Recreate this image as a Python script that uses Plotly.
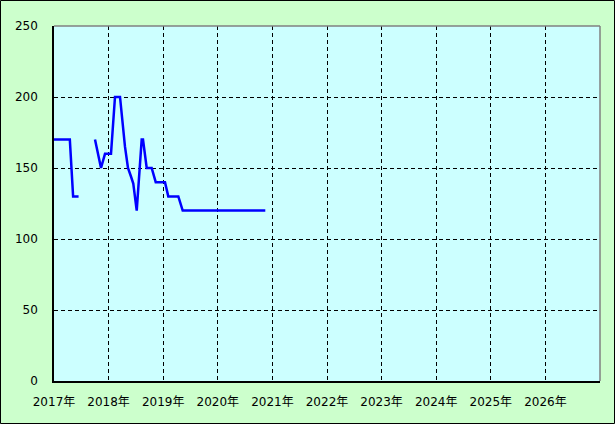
import plotly.graph_objects as go

# Data (fractional year, price); None marks a gap in the series
years = [2017.00, 2017.29, 2017.35, 2017.45,
         None,
         2017.751, 2017.861, 2017.934, 2018.044, 2018.117, 2018.209, 2018.300,
         2018.355, 2018.410, 2018.452, 2018.515, 2018.606, 2018.630, 2018.660,
         2018.698, 2018.789, 2018.863, 2019.033, 2019.093, 2019.277, 2019.357,
         2020.870]
values = [170, 170, 130, 130,
          None,
          170, 150, 160, 160, 200, 200, 165,
          150, 144, 139, 120, 170, 170, 160,
          150, 150, 140, 140, 130, 130, 120,
          120]

tick_years = list(range(2017, 2027))
tick_labels = [f"{y}年" for y in tick_years]
y_ticks = [0, 50, 100, 150, 200, 250]

fig = go.Figure()
fig.add_trace(go.Scatter(
    x=years, y=values, mode="lines", connectgaps=False,
    line=dict(color="#0000ff", width=2.5), hoverinfo="skip", showlegend=False,
))

font = dict(family="DejaVu Sans, Noto Sans CJK JP", size=12, color="black")

fig.update_layout(
    width=615, height=424,
    margin=dict(l=54, r=15, t=26, b=43),
    paper_bgcolor="#ccffcc",
    plot_bgcolor="#ccffff",
    font=font,
    xaxis=dict(
        range=[2017, 2027], tickmode="array", tickvals=tick_years, ticktext=tick_labels,
        showgrid=True, gridcolor="black", griddash="4px,3px", gridwidth=1,
        zeroline=False, showline=True, linecolor="black", linewidth=1.5,
        ticks="", ticklabelstandoff=9, fixedrange=True,
    ),
    yaxis=dict(
        range=[0, 250], tickmode="array", tickvals=y_ticks,
        showgrid=True, gridcolor="black", griddash="4px,3px", gridwidth=1,
        zeroline=False, showline=True, linecolor="black", linewidth=1.5,
        ticks="", ticklabelstandoff=12, fixedrange=True,
    ),
    shapes=[
        dict(type="line", xref="paper", yref="paper", x0=0, x1=1, y0=1, y1=1,
             line=dict(color="#808080", width=1.5)),
        dict(type="line", xref="paper", yref="paper", x0=1, x1=1, y0=0, y1=1,
             line=dict(color="#808080", width=1.5)),
        dict(type="rect", xref="paper", yref="paper",
             x0=(0.5 - 54) / 546, x1=(614.5 - 54) / 546,
             y0=(381 - 423.5) / 355, y1=(381 - 0.5) / 355,
             line=dict(color="black", width=1), layer="below"),
    ],
)

fig.write_html("out.html", config={"displayModeBar": False},
               post_script="document.body.style.margin='0';document.body.style.padding='0';")
